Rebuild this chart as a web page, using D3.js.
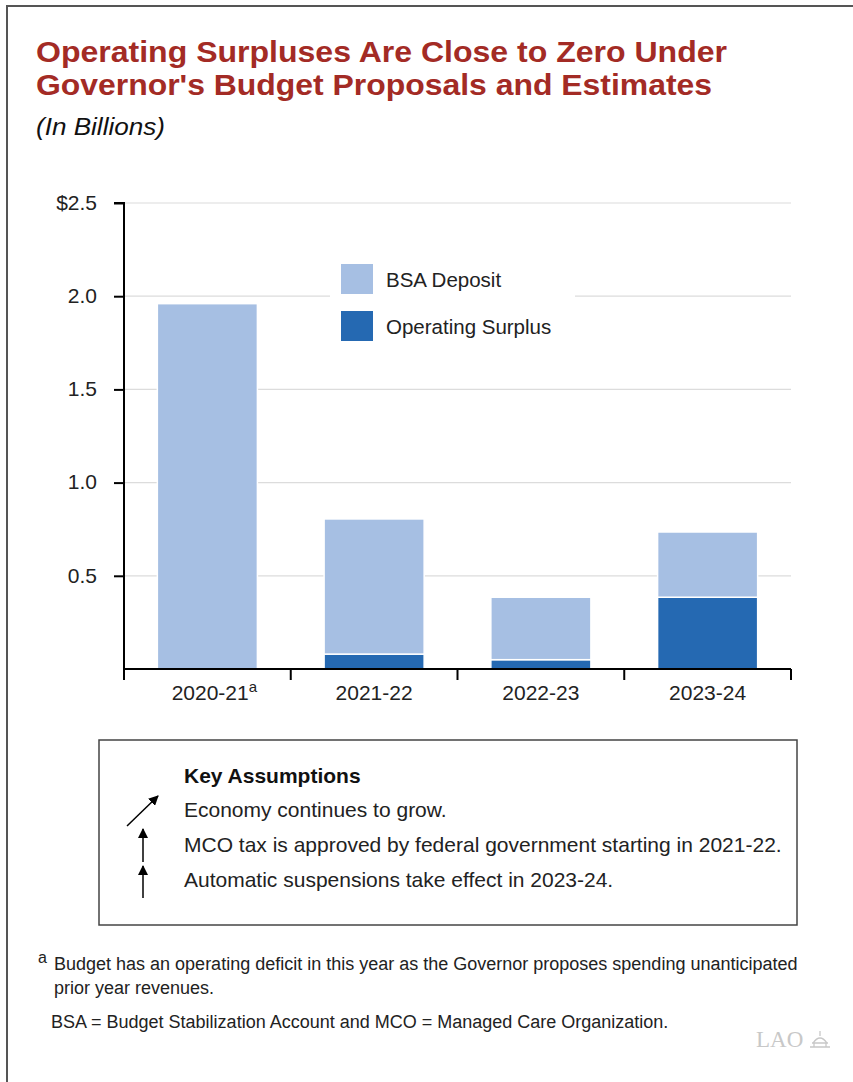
<!DOCTYPE html>
<html>
<head>
<meta charset="utf-8">
<style>
  body { margin: 0; background: #fff; }
  svg { display: block; font-family: "Liberation Sans", Arial, sans-serif; }
</style>
</head>
<body>
<svg width="853" height="1082"></svg>
<script src="https://d3js.org/d3.v7.min.js"></script>
<script>
var years = ["2020-21", "2021-22", "2022-23", "2023-24"];
var surplus = [0, 0.08, 0.05, 0.385];
var bsa = [1.96, 0.725, 0.335, 0.35];
var yTicks = [0.5, 1.0, 1.5, 2.0, 2.5];
var assumptions = [
  "Economy continues to grow.",
  "MCO tax is approved by federal government starting in 2021-22.",
  "Automatic suspensions take effect in 2023-24."
];

var svg = d3.select("svg");

// outer frame
svg.append("path")
  .attr("d", "M7,1082 V6 H853")
  .attr("fill", "none")
  .attr("stroke", "#555")
  .attr("stroke-width", 2);

// titles
svg.append("text").attr("x", 36).attr("y", 62)
  .attr("fill", "#a32b25").attr("font-weight", "bold").attr("font-size", 29)
  .attr("textLength", 691).attr("lengthAdjust", "spacingAndGlyphs")
  .text("Operating Surpluses Are Close to Zero Under");
svg.append("text").attr("x", 36).attr("y", 95)
  .attr("fill", "#a32b25").attr("font-weight", "bold").attr("font-size", 29)
  .attr("textLength", 676).attr("lengthAdjust", "spacingAndGlyphs")
  .text("Governor's Budget Proposals and Estimates");
svg.append("text").attr("x", 36).attr("y", 135)
  .attr("fill", "#111").attr("font-style", "italic").attr("font-size", 24)
  .attr("textLength", 129).attr("lengthAdjust", "spacingAndGlyphs")
  .text("(In Billions)");

// scales
var x = d3.scaleBand().domain(years).range([124, 791]).paddingInner(0.4).paddingOuter(0.2);
var y = d3.scaleLinear().domain([0, 2.5]).range([669, 203]);

// gridlines
svg.append("g").selectAll("line").data(yTicks).join("line")
  .attr("x1", 124).attr("x2", 791)
  .attr("y1", d => y(d)).attr("y2", d => y(d))
  .attr("stroke", "#dcdcdc").attr("stroke-width", 1.2);

// legend background
svg.append("rect").attr("x", 330).attr("y", 256).attr("width", 245).attr("height", 92).attr("fill", "#fff");

// bars
var stackData = years.map((c, i) => ({ year: c, surplus: surplus[i], bsa: bsa[i] }));
var series = d3.stack().keys(["surplus", "bsa"])(stackData);
var colors = { surplus: "#2569b2", bsa: "#a6bfe3" };

svg.append("g").selectAll("g").data(series).join("g")
  .attr("fill", d => colors[d.key])
  .selectAll("rect").data(d => d.filter(p => p[1] - p[0] > 0)).join("rect")
  .attr("x", d => x(d.data.year))
  .attr("width", x.bandwidth())
  .attr("y", d => y(d[1]))
  .attr("height", d => y(d[0]) - y(d[1]))
  .attr("stroke", "#fff").attr("stroke-width", 1.5);

// y axis
var yAxis = svg.append("g").attr("transform", "translate(124,0)")
  .call(d3.axisLeft(y).tickValues(yTicks).tickSize(10).tickPadding(17)
    .tickFormat(d => d === 2.5 ? "$2.5" : d3.format(".1f")(d)));
yAxis.select(".domain").attr("d", "M-10," + y(2.5) + "H0V" + y(0)).attr("stroke", "#000").attr("stroke-width", 2);
yAxis.selectAll(".tick line").attr("stroke", "#000").attr("stroke-width", 2);
yAxis.selectAll(".tick text").attr("font-size", 21).attr("fill", "#222")
  .attr("font-family", "Liberation Sans, Arial, sans-serif").attr("dy", "0.3em");

// x axis
var step = x.step(), gap = step - x.bandwidth();
var bounds = years.map(c => x(c) - gap / 2).concat([x(years[years.length - 1]) + x.bandwidth() + gap / 2]);
svg.append("line").attr("x1", 124).attr("x2", 791).attr("y1", y(0)).attr("y2", y(0))
  .attr("stroke", "#000").attr("stroke-width", 2);
svg.append("g").selectAll("line").data(bounds).join("line")
  .attr("x1", d => d).attr("x2", d => d).attr("y1", y(0)).attr("y2", y(0) + 11)
  .attr("stroke", "#000").attr("stroke-width", 2);
var xl = svg.append("g").selectAll("text").data(years).join("text")
  .attr("x", d => x(d) + x.bandwidth() / 2).attr("y", 700)
  .attr("text-anchor", "middle").attr("font-size", 21).attr("fill", "#222");
xl.append("tspan").text(d => d);
xl.filter((d, i) => i === 0).append("tspan").attr("font-size", 15).attr("dy", -8).text("a");
xl.filter((d, i) => i === 0).attr("dx", 7);

// legend
var leg = [["bsa", "BSA Deposit"], ["surplus", "Operating Surplus"]];
var lg = svg.append("g").selectAll("g").data(leg).join("g")
  .attr("transform", (d, i) => "translate(341," + (264 + i * 47) + ")");
lg.append("rect").attr("width", 32).attr("height", 30).attr("fill", d => colors[d[0]]);
lg.append("text").attr("x", 45).attr("y", 23).attr("font-size", 20.5).attr("fill", "#222").text(d => d[1]);

// key assumptions box
svg.append("rect").attr("x", 99).attr("y", 740).attr("width", 698).attr("height", 185)
  .attr("fill", "none").attr("stroke", "#444").attr("stroke-width", 1.5);
svg.append("text").attr("x", 184).attr("y", 783).attr("font-size", 21).attr("font-weight", "bold")
  .attr("fill", "#111").text("Key Assumptions");
svg.append("g").selectAll("text").data(assumptions).join("text")
  .attr("x", 184).attr("y", (d, i) => 817 + i * 35)
  .attr("font-size", 21).attr("fill", "#222").text(d => d);

var defs = svg.append("defs");
defs.append("marker").attr("id", "ah").attr("viewBox", "0 0 10 10")
  .attr("refX", 9).attr("refY", 5).attr("markerWidth", 10).attr("markerHeight", 10)
  .attr("markerUnits", "userSpaceOnUse").attr("orient", "auto")
  .append("path").attr("d", "M0,0 L10,5 L0,10 Z").attr("fill", "#000");
var arrows = [[127, 826, 158, 796], [143, 862, 143, 829], [143, 898, 143, 866]];
svg.append("g").selectAll("line").data(arrows).join("line")
  .attr("x1", d => d[0]).attr("y1", d => d[1]).attr("x2", d => d[2]).attr("y2", d => d[3])
  .attr("stroke", "#000").attr("stroke-width", 1.5).attr("marker-end", "url(#ah)");

// footnotes
svg.append("text").attr("x", 38).attr("y", 963).attr("font-size", 16).attr("fill", "#222").text("a");
svg.append("text").attr("x", 54).attr("y", 970).attr("font-size", 18).attr("fill", "#222")
  .text("Budget has an operating deficit in this year as the Governor proposes spending unanticipated");
svg.append("text").attr("x", 54).attr("y", 994).attr("font-size", 18).attr("fill", "#222")
  .text("prior year revenues.");
svg.append("text").attr("x", 51).attr("y", 1028).attr("font-size", 18).attr("fill", "#222")
  .text("BSA = Budget Stabilization Account and MCO = Managed Care Organization.");

// LAO mark
svg.append("text").attr("x", 756).attr("y", 1047).attr("font-family", "Liberation Serif, serif")
  .attr("font-size", 23).attr("fill", "#c8c8c8").text("LAO");
svg.append("path")
  .attr("d", "M810,1047 H830 M812,1043 H828 M814,1043 V1047 M826,1043 V1047 M813,1043 Q820,1033 827,1043 M820,1036 V1031")
  .attr("fill", "none").attr("stroke", "#c8c8c8").attr("stroke-width", 1.3);
</script>
</body>
</html>
